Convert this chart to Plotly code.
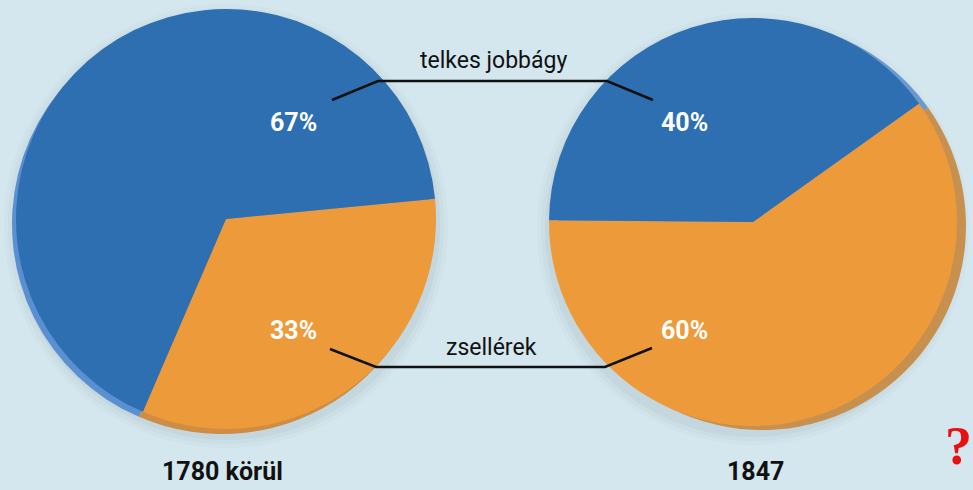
import plotly.graph_objects as go

# ---- data ----
categories = ["zsellérek", "telkes jobbágy"]
years = ["1780 körül", "1847"]
values_1780 = [33, 67]
values_1847 = [60, 40]

W, H = 973, 490
ORANGE = "#ec9a3a"
BLUE = "#2e6fb1"
BG = "#d4e7ee"
FONT = "Roboto, Liberation Sans Narrow, sans-serif"


def px(x):
    return x / W


def py(y):
    return 1 - y / H


def clamp(v):
    return min(1.0, max(0.0, v))


def dom(cx, cy, r):
    return dict(x=[clamp(px(cx - r)), clamp(px(cx + r))],
                y=[clamp(py(cy + r)), clamp(py(cy - r))])


# pie geometry (centre x, centre y, radius) in pixels
L = (226, 219, 210)
R = (753, 222, 204)
rot_1780 = 84.5
rot_1847 = 54.5

fig = go.Figure()

common = dict(sort=False, direction="clockwise", textinfo="none",
              hoverinfo="label+percent", showlegend=False)

# soft shadows
for (cx, cy, r) in (L, R):
    for k, op in ((12, 0.025), (8, 0.035), (4, 0.045)):
        fig.add_trace(go.Pie(labels=["s"], values=[1], domain=dom(cx, cy + 7, r + k),
                             marker=dict(colors=[f"rgba(60,80,90,{op})"]),
                             textinfo="none", hoverinfo="skip", showlegend=False))

# 3D rims
fig.add_trace(go.Pie(labels=categories, values=values_1780, rotation=rot_1780,
                     domain=dom(L[0] - 4, L[1] + 5, L[2]),
                     marker=dict(colors=["#cf8c45", "#5a8fd2"]), **common))
fig.add_trace(go.Pie(labels=categories, values=values_1847, rotation=rot_1847,
                     domain=dom(R[0] + 9, R[1] + 4, R[2]),
                     marker=dict(colors=["#c8904f", "#6a98d0"]), **common))

# main pies
fig.add_trace(go.Pie(labels=categories, values=values_1780, rotation=rot_1780,
                     domain=dom(*L), marker=dict(colors=[ORANGE, BLUE]),
                     name=years[0], **common))
fig.add_trace(go.Pie(labels=categories, values=values_1847, rotation=rot_1847,
                     domain=dom(*R), marker=dict(colors=[ORANGE, BLUE]),
                     name=years[1], **common))

ann = []


def label(x, y, text, size, color, family=FONT):
    ann.append(dict(x=px(x), y=py(y), xref="paper", yref="paper", showarrow=False,
                    xanchor="center", yanchor="middle", text=text,
                    font=dict(family=family, size=size, color=color)))


# percentage labels
for x, y, v in ((293, 122, values_1780[1]), (293, 330, values_1780[0]),
                (684, 122, values_1847[1]), (684, 330, values_1847[0])):
    label(x, y, f"<b>{v}%</b>", 25, "white")
# category labels
label(493, 61, categories[1], 23, "#111")
label(491, 347, categories[0], 23, "#111")
# years
label(222, 471, f"<b>{years[0]}</b>", 25, "#111")
label(755, 471, f"<b>{years[1]}</b>", 25, "#111")
# red question mark
label(958, 446, "<b>?</b>", 54, "#e81010", "Liberation Serif, DejaVu Serif, serif")


def path(pts):
    return "M " + " L ".join(f"{px(a):.5f},{py(b):.5f}" for a, b in pts)


shapes = [
    dict(type="path", xref="paper", yref="paper",
         path=path([(332, 100), (378, 81), (607, 81), (653, 100)]),
         line=dict(color="#111", width=2.5)),
    dict(type="path", xref="paper", yref="paper",
         path=path([(330, 349), (376, 367), (605, 367), (652, 348)]),
         line=dict(color="#111", width=2.5)),
]

fig.update_layout(width=W, height=H, margin=dict(l=0, r=0, t=0, b=0),
                  paper_bgcolor=BG, plot_bgcolor=BG, annotations=ann, shapes=shapes,
                  showlegend=False)

fig.write_html("out.html", config={"displayModeBar": False},
               post_script="document.body.style.margin='0';")
